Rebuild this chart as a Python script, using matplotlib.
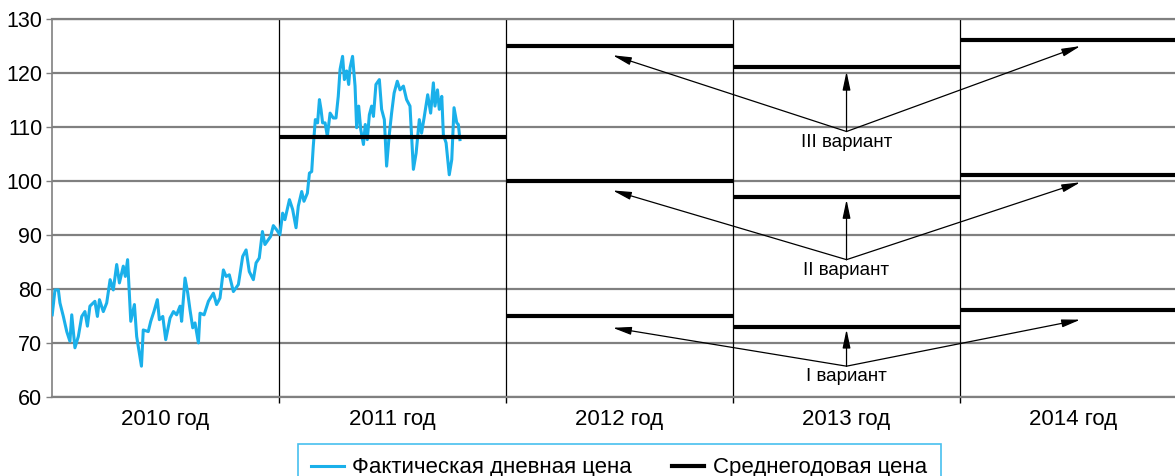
import matplotlib
matplotlib.use("Agg")
import matplotlib.pyplot as plt
from matplotlib.lines import Line2D

plt.rcParams['font.family'] = ['Liberation Sans', 'DejaVu Sans']

# daily price (time in years from start of 2010)
t_years = [0.001, 0.013, 0.028, 0.035, 0.050, 0.065, 0.079, 0.087, 0.101, 0.116,
           0.131, 0.145, 0.156, 0.167, 0.189, 0.200, 0.209, 0.226, 0.241, 0.256,
           0.270, 0.285, 0.297, 0.314, 0.323, 0.333, 0.347, 0.363, 0.373, 0.385,
           0.394, 0.402, 0.424, 0.435, 0.449, 0.464, 0.473, 0.488, 0.501, 0.520,
           0.535, 0.549, 0.564, 0.571, 0.586, 0.598, 0.608, 0.620, 0.630, 0.645,
           0.652, 0.670, 0.689, 0.711, 0.725, 0.740, 0.755, 0.767, 0.781, 0.799,
           0.821, 0.840, 0.855, 0.869, 0.887, 0.899, 0.913, 0.927, 0.938, 0.953,
           0.963, 0.975, 0.990, 1.004, 1.016, 1.026, 1.046, 1.060, 1.075, 1.085,
           1.100, 1.110, 1.125, 1.134, 1.144, 1.151, 1.160, 1.170, 1.178, 1.185,
           1.192, 1.203, 1.213, 1.225, 1.239, 1.251, 1.261, 1.269, 1.280, 1.288,
           1.298, 1.307, 1.313, 1.324, 1.335, 1.342, 1.351, 1.360, 1.372, 1.380,
           1.389, 1.398, 1.408, 1.416, 1.427, 1.442, 1.452, 1.464, 1.474, 1.485,
           1.496, 1.507, 1.521, 1.533, 1.548, 1.562, 1.577, 1.592, 1.604, 1.618,
           1.628, 1.639, 1.655, 1.668, 1.680, 1.687, 1.698, 1.706, 1.717, 1.724,
           1.736, 1.750, 1.761, 1.771, 1.783, 1.790, 1.797]
price = [75.2, 79.8, 79.8, 77.4, 74.9, 72.1, 70.3, 75.2, 69.1, 71.2,
         74.9, 75.8, 73.1, 76.8, 77.7, 74.9, 78.0, 75.8, 77.4, 81.7,
         79.8, 84.5, 81.1, 84.2, 82.3, 85.4, 74.0, 77.1, 71.2, 68.1,
         65.7, 72.4, 72.1, 74.0, 75.8, 78.0, 74.3, 74.9, 70.6, 74.6,
         75.8, 75.2, 76.8, 74.0, 82.0, 79.2, 76.1, 72.8, 73.7, 70.0,
         75.5, 75.2, 77.7, 79.2, 77.1, 78.3, 83.5, 82.3, 82.6, 79.5,
         80.8, 86.0, 87.2, 83.2, 81.7, 84.8, 85.7, 90.6, 88.2, 89.1,
         89.7, 91.7, 90.9, 90.0, 94.0, 92.8, 96.5, 94.7, 91.3, 95.3,
         98.0, 96.2, 97.7, 101.4, 101.7, 106.4, 111.3, 110.7, 115.0, 113.2,
         110.7, 110.7, 108.2, 112.5, 111.6, 111.6, 115.6, 120.6, 123.0, 118.7,
         120.3, 117.8, 120.9, 123.0, 117.5, 109.8, 113.8, 109.5, 106.7, 110.4,
         107.6, 112.2, 113.8, 111.9, 117.8, 118.7, 113.2, 111.3, 102.7, 108.2,
         112.5, 116.2, 118.4, 116.8, 117.5, 115.0, 113.8, 102.1, 105.1, 111.3,
         108.8, 111.6, 115.9, 112.5, 118.1, 113.8, 116.8, 113.2, 115.6, 108.5,
         107.0, 101.1, 103.9, 113.5, 110.7, 110.4, 107.6]

years = ['2010 год', '2011 год', '2012 год', '2013 год', '2014 год']

# average annual price: actual 2011 and three forecast variants
avg_2011 = 108
variant_names = ['I вариант', 'II вариант', 'III вариант']
forecast = {  # 2012, 2013, 2014
    'I вариант': [75, 73, 76],
    'II вариант': [100, 97, 101],
    'III вариант': [125, 121, 126],
}
# arrow origin (label point) and arrow tips for each variant
arrow_origin = {'I вариант': 65.7, 'II вариант': 85.4, 'III вариант': 109.1}
arrow_tips = {
    'I вариант': [(2.47, 72.8), (3.5, 72.5), (4.53, 74.3)],
    'II вариант': [(2.47, 98.2), (3.5, 96.5), (4.53, 99.7)],
    'III вариант': [(2.47, 123.2), (3.5, 120.2), (4.53, 124.9)],
}
label_y = {'I вариант': 63.7, 'II вариант': 83.4, 'III вариант': 107.1}

blue = '#1ab0ea'
grid_gray = '#808080'

fig = plt.figure(figsize=(11.75, 4.76), dpi=100)
ax = fig.add_axes([52 / 1175, 79 / 476, 1 - 52 / 1175, 378.5 / 476])

ax.set_xlim(0, 4.947)
ax.set_ylim(60, 130)

ax.set_yticks(range(60, 131, 10))
ax.yaxis.grid(True, color=grid_gray, lw=1.6)
ax.set_axisbelow(True)
ax.tick_params(axis='y', labelsize=15.5, length=4, width=1, color=grid_gray, pad=3)

ax.set_xticks([1, 2, 3, 4])
ax.set_xticklabels([])
ax.tick_params(axis='x', which='major', length=4, width=1, color='black')
ax.set_xticks([0.5, 1.5, 2.5, 3.5, 4.5], minor=True)
ax.set_xticklabels(years, minor=True, fontsize=16)
ax.tick_params(axis='x', which='minor', length=0, pad=9)

for b in [1, 2, 3, 4]:
    ax.axvline(b, color='black', lw=0.9, zorder=1)

for side in ['left', 'bottom', 'top']:
    ax.spines[side].set_color(grid_gray)
    ax.spines[side].set_linewidth(1.6)
ax.spines['left'].set_linewidth(1.2)
ax.spines['right'].set_visible(False)

ax.plot(t_years, price, color=blue, lw=2.2, zorder=3)

ax.hlines(avg_2011, 1, 2, color='black', lw=3, zorder=4)
for name in variant_names:
    for i, v in enumerate(forecast[name]):
        ax.hlines(v, 2 + i, 3 + i, color='black', lw=3, zorder=4)

for name in variant_names:
    for tip in arrow_tips[name]:
        ax.annotate('', xy=tip, xytext=(3.5, arrow_origin[name]),
                    arrowprops=dict(arrowstyle='-|>,head_length=0.8,head_width=0.17',
                                    color='black', lw=0.9, mutation_scale=14,
                                    shrinkA=0, shrinkB=0), zorder=5)
    ax.text(3.5, label_y[name], name, ha='center', va='center', fontsize=13.5)

handles = [Line2D([], [], color=blue, lw=2.2),
           Line2D([], [], color='black', lw=3)]
leg = fig.legend(handles, ['Фактическая дневная цена', 'Среднегодовая цена'],
                 loc='upper left', bbox_to_anchor=(298 / 1175, 1 - 444 / 476),
                 bbox_transform=fig.transFigure, ncol=2, fontsize=16,
                 frameon=True, fancybox=False, borderaxespad=0, borderpad=0.6,
                 handlelength=1.45, handletextpad=0.4, columnspacing=1.8)
leg.get_frame().set_edgecolor(blue)
leg.get_frame().set_linewidth(1.2)

fig.savefig('out.png', dpi=100)
